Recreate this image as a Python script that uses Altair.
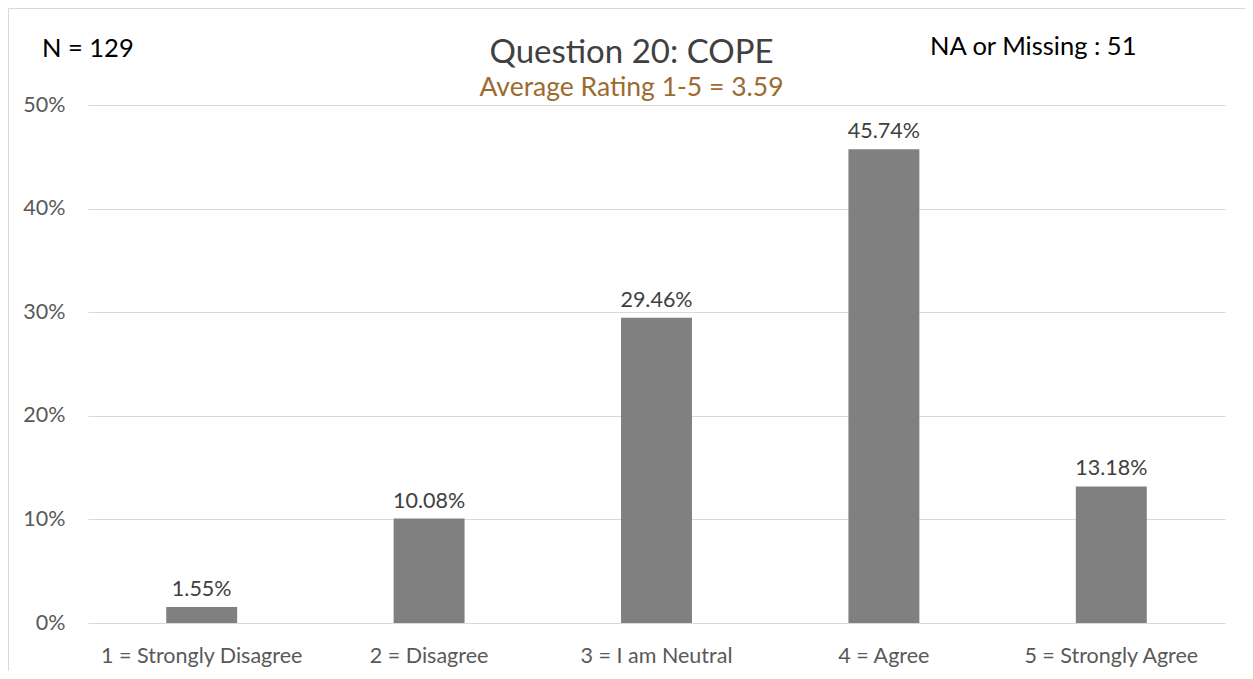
import altair as alt
import pandas as pd

categories = ["1 = Strongly Disagree", "2 = Disagree", "3 = I am Neutral", "4 = Agree", "5 = Strongly Agree"]
percent_values = [1.55, 10.08, 29.46, 45.74, 13.18]
y_ticks = [0, 0.1, 0.2, 0.3, 0.4, 0.5]

title_text = "Question 20: COPE"
subtitle_text = "Average Rating 1-5 = 3.59"
n_text = "N = 129"
missing_text = "NA or Missing : 51"

df = pd.DataFrame({"cat": categories, "share": [v / 100 for v in percent_values]})

FONT = "Lato"
W, H = 1137, 518

x_enc = alt.X("cat:N", sort=categories, title=None,
              scale=alt.Scale(paddingInner=0.688, paddingOuter=0.344),
              axis=alt.Axis(labelAngle=0, domain=False, ticks=False, grid=False,
                            labelFont=FONT, labelFontSize=21.5, labelColor="#595959",
                            labelPadding=22, labelLimit=0))
y_enc = alt.Y("share:Q", title=None,
              scale=alt.Scale(domain=[0, 0.5], nice=False, zero=True),
              axis=alt.Axis(values=y_ticks, format=".0%", domain=False, ticks=False,
                            grid=True, gridColor="#D9D9D9", gridWidth=1,
                            labelFont=FONT, labelFontSize=21.5, labelColor="#595959",
                            labelPadding=23))

base = alt.Chart(df)

frame = alt.Chart(pd.DataFrame({"k": [0]})).mark_rect(
    fill=None, stroke="#D9D9D9", strokeWidth=1
).encode(x=alt.value(-79.5), x2=alt.value(W + 200), y=alt.value(-96.5), y2=alt.value(H + 200))

bars = base.mark_bar(color="#808080").encode(x=x_enc, y=y_enc)

labels = base.mark_text(font=FONT, fontSize=21.5, color="#404040", baseline="alphabetic", dy=-11).encode(
    x=alt.X("cat:N", sort=categories),
    y=alt.Y("share:Q"),
    text=alt.Text("share:Q", format=".2%"),
)

ann = pd.DataFrame({"k": [0]})
title = alt.Chart(ann).mark_text(font=FONT, fontSize=33, color="#404040", align="center", baseline="alphabetic").encode(
    x=alt.value(543.5), y=alt.value(-42.5), text=alt.value(title_text))
subtitle = alt.Chart(ann).mark_text(font=FONT, fontSize=26.5, color="#9C6B30", align="center", baseline="alphabetic").encode(
    x=alt.value(543.5), y=alt.value(-9), text=alt.value(subtitle_text))
ntxt = alt.Chart(ann).mark_text(font=FONT, fontSize=25.5, color="#000000", align="left", baseline="alphabetic").encode(
    x=alt.value(-46), y=alt.value(-48), text=alt.value(n_text))
mtxt = alt.Chart(ann).mark_text(font=FONT, fontSize=25.5, color="#000000", align="left", baseline="alphabetic").encode(
    x=alt.value(842), y=alt.value(-50), text=alt.value(missing_text))

chart = alt.layer(frame, bars, labels, title, subtitle, ntxt, mtxt).properties(
    width=W, height=H,
    background="white",
    autosize=alt.AutoSizeParams(type="none"),
    padding={"left": 80, "top": 97, "right": 20, "bottom": 48},
).configure_view(strokeWidth=0, stroke="transparent")

chart.save("out.html", embed_options={"renderer": "svg", "actions": False})
